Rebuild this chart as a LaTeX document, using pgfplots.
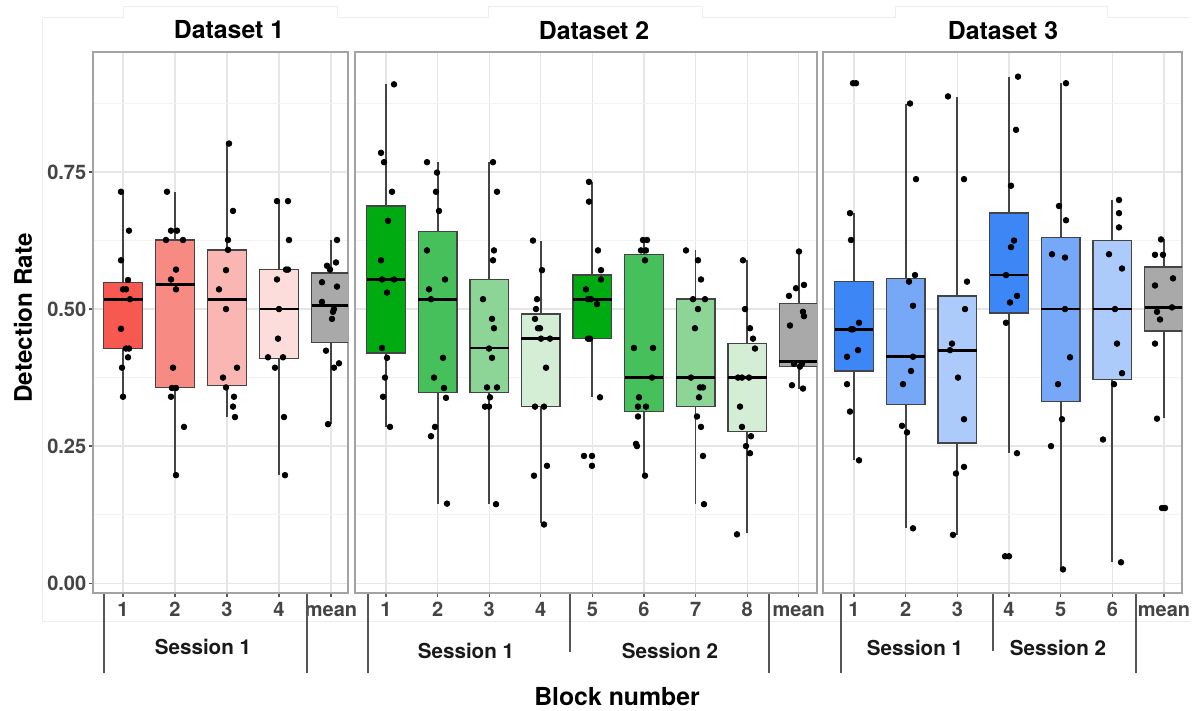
\documentclass[border=0pt]{standalone}
\usepackage{fontspec}
\setmainfont{TeX Gyre Heros}
\usepackage{pgfplots}
\usepackage{pgfplotstable}
\pgfplotsset{compat=1.18}
\usepgfplotslibrary{statistics}

\definecolor{redA}{HTML}{F7584F}
\definecolor{redB}{HTML}{F88A84}
\definecolor{redC}{HTML}{F9B6B2}
\definecolor{redD}{HTML}{FDDDDB}
\definecolor{grnA}{HTML}{00AA11}
\definecolor{grnB}{HTML}{45C05A}
\definecolor{grnC}{HTML}{8DD597}
\definecolor{grnD}{HTML}{D3EED5}
\definecolor{bluA}{HTML}{3D86F6}
\definecolor{bluB}{HTML}{77A8F8}
\definecolor{bluC}{HTML}{ADCBFA}
\definecolor{meanG}{HTML}{A9A9A9}
\definecolor{boxline}{HTML}{444444}
\definecolor{frame}{HTML}{A3A3A3}
\definecolor{gridmaj}{HTML}{E6E6E6}
\definecolor{gridmin}{HTML}{F3F3F3}
\definecolor{tickc}{HTML}{555555}
\definecolor{labc}{HTML}{444444}
\definecolor{sessc}{HTML}{555555}
\definecolor{faint}{HTML}{EEEEEE}

\newcommand{\ticksize}{\fontsize{10pt}{12pt}\selectfont}
\newcommand{\titlesize}{\fontsize{12.4pt}{14pt}\selectfont}
\newcommand{\sesssize}{\fontsize{10.3pt}{12pt}\selectfont}

% box: position, lower whisker, Q1, median, Q3, upper whisker, colour
\newcommand{\bx}[7]{\addplot[boxplot/draw direction=y, boxplot prepared={draw position=#1, lower whisker=#2,
  lower quartile=#3, median=#4, upper quartile=#5, upper whisker=#6,
  box extend=0.75, whisker extend=0}, draw=boxline, fill=#7] coordinates {};}

\pgfplotsset{
  panel/.style={
    scale only axis, height=270.5pt, ymin=-0.018, ymax=0.969,
    axis line style={draw=frame, line width=0.8pt},
    ytick={0,0.25,0.5,0.75}, minor ytick={0.125,0.375,0.625,0.875},
    xmajorgrids, ymajorgrids, yminorgrids,
    major grid style={draw=gridmaj, line width=0.6pt},
    minor grid style={draw=gridmin, line width=0.4pt},
    tick pos=left,
    tick align=outside, major tick length=2.2pt, minor tick length=0pt,
    xtick style={draw=tickc, line width=0.6pt},
    tick label style={font=\ticksize\bfseries, text=labc},
    xticklabel style={text height=0.7em, inner sep=2.5pt},
    boxplot/draw direction=y,
    boxplot/every median/.style={draw=black, line width=1.4pt},
    boxplot/every whisker/.style={line width=0.9pt},
    boxplot/every box/.style={line width=0.7pt},
  },
  dots/.style={only marks, mark=*, mark size=1.4pt, draw=black, fill=black},
}

% jittered points: x = horizontal position in reference pixels, y = detection rate
\pgfplotstableread{
x y
121 0.714
129 0.643
121 0.589
128 0.553
123 0.536
126 0.536
130 0.518
121 0.464
126 0.428
129 0.428
128 0.412
122 0.393
123 0.340
167 0.714
171 0.643
177 0.643
166 0.626
183 0.626
176 0.572
171 0.554
176 0.536
173 0.393
172 0.356
176 0.356
171 0.340
184 0.285
176 0.197
229 0.802
233 0.679
228 0.626
228 0.608
226 0.571
219 0.536
226 0.500
223 0.375
237 0.393
226 0.357
234 0.340
233 0.322
235 0.303
277 0.697
288 0.697
289 0.626
277 0.554
286 0.572
288 0.572
279 0.500
278 0.446
268 0.412
283 0.412
275 0.393
284 0.303
285 0.197
337 0.626
336 0.585
327 0.579
330 0.572
322 0.549
337 0.541
322 0.513
334 0.500
333 0.495
332 0.482
326 0.424
334 0.393
339 0.401
328 0.290
}\ptsA

\pgfplotstableread{
x y
394 0.910
381 0.785
384 0.768
392 0.714
388 0.661
381 0.589
382 0.554
394 0.554
387 0.530
382 0.429
387 0.411
385 0.375
383 0.340
390 0.285
427 0.768
437 0.749
436 0.714
439 0.679
427 0.607
445 0.554
429 0.536
431 0.518
443 0.411
434 0.375
444 0.356
446 0.338
435 0.285
431 0.268
447 0.145
493 0.768
497 0.714
494 0.607
493 0.589
483 0.518
492 0.482
494 0.465
489 0.428
492 0.411
487 0.357
497 0.357
490 0.339
485 0.322
489 0.322
496 0.144
533 0.625
542 0.571
537 0.518
536 0.500
535 0.482
538 0.465
540 0.465
541 0.446
550 0.446
546 0.393
535 0.322
544 0.322
547 0.214
534 0.196
544 0.107
589 0.732
589 0.696
598 0.607
601 0.571
601 0.554
586 0.536
588 0.518
591 0.518
597 0.509
588 0.446
590 0.446
600 0.339
584 0.232
592 0.232
592 0.214
643 0.626
647 0.626
641 0.607
646 0.607
645 0.589
634 0.429
653 0.429
652 0.375
639 0.339
638 0.322
646 0.322
638 0.304
636 0.254
637 0.250
645 0.196
686 0.607
698 0.589
701 0.554
693 0.518
705 0.518
698 0.500
695 0.465
691 0.375
700 0.357
703 0.357
699 0.339
697 0.304
701 0.285
703 0.232
704 0.144
743 0.589
745 0.500
750 0.465
753 0.446
755 0.428
738 0.375
742 0.375
749 0.375
740 0.322
742 0.285
751 0.268
746 0.250
750 0.237
737 0.089
799 0.605
804 0.544
796 0.538
789 0.524
803 0.495
804 0.487
790 0.470
794 0.400
802 0.400
800 0.395
792 0.361
803 0.355
}\ptsB

\pgfplotstableread{
x y
853 0.912
856 0.912
850 0.675
851 0.626
859 0.475
851 0.463
853 0.463
858 0.425
847 0.413
847 0.363
850 0.313
859 0.224
910 0.875
916 0.737
915 0.562
909 0.550
913 0.506
913 0.413
911 0.387
903 0.363
902 0.287
907 0.275
913 0.100
948 0.888
964 0.737
967 0.550
965 0.500
952 0.437
950 0.425
958 0.375
964 0.299
964 0.212
956 0.200
953 0.088
1018 0.924
1016 0.827
1011 0.725
1014 0.625
1011 0.613
1006 0.562
1017 0.524
1010 0.512
1006 0.475
1017 0.237
1005 0.049
1009 0.049
1066 0.912
1059 0.688
1066 0.662
1052 0.600
1065 0.594
1065 0.500
1070 0.412
1058 0.363
1062 0.299
1051 0.250
1063 0.025
1119 0.699
1119 0.675
1119 0.649
1109 0.600
1122 0.574
1115 0.500
1117 0.437
1122 0.383
1114 0.363
1103 0.262
1121 0.038
1161 0.627
1155 0.599
1163 0.599
1173 0.556
1155 0.543
1172 0.503
1157 0.495
1160 0.481
1155 0.437
1157 0.300
1162 0.137
1165 0.137
}\ptsC

\begin{document}
\begin{tikzpicture}
\path[use as bounding box] (0,0) rectangle (600pt,355.5pt);

% faint background frame of the original figure
\begin{scope}[x=0.5pt, y=-0.5pt, shift={(0pt,355.5pt)}]
\draw[faint, line width=0.5pt] (42,622) -- (42,18) -- (123,18) -- (123,7) -- (337,7) -- (337,18)
  -- (488,18) -- (488,7) -- (702,7) -- (702,18) -- (895,18) -- (895,7) -- (1107,7) -- (1107,18) -- (1190,18);
\draw[faint, line width=0.5pt] (42,622) -- (1190,622);
\end{scope}

% ---------- Dataset 1 ----------
\begin{axis}[panel, at={(46.5pt,59pt)}, anchor=south west, width=127.5pt,
  xmin=0.423, xmax=5.327,
  xtick={1,2,3,4,5}, xticklabels={1,2,3,4,mean},
  yticklabels={0.00,0.25,0.50,0.75},
  ytick style={draw=tickc, line width=0.6pt},
  yticklabel style={inner sep=1pt}]
\bx{1}{0.340}{0.428}{0.518}{0.549}{0.714}{redA}
\bx{2}{0.197}{0.357}{0.545}{0.626}{0.714}{redB}
\bx{3}{0.303}{0.361}{0.518}{0.608}{0.802}{redC}
\bx{4}{0.197}{0.410}{0.500}{0.572}{0.697}{redD}
\bx{5}{0.290}{0.439}{0.507}{0.566}{0.626}{meanG}
\addplot[dots] table[x expr={(\thisrow{x}-123)/52+1}, y=y] {\ptsA};
\end{axis}

% ---------- Dataset 2 ----------
\begin{axis}[panel, at={(177.5pt,59pt)}, anchor=south west, width=231pt,
  xmin=0.399, xmax=9.353,
  xtick={1,...,9}, xticklabels={1,2,3,4,5,6,7,8,mean},
  yticklabels={}, ytick style={draw=none}]
\bx{1}{0.285}{0.420}{0.554}{0.688}{0.910}{grnA}
\bx{2}{0.145}{0.348}{0.518}{0.642}{0.768}{grnB}
\bx{3}{0.144}{0.348}{0.429}{0.554}{0.768}{grnC}
\bx{4}{0.109}{0.322}{0.446}{0.491}{0.625}{grnD}
\bx{5}{0.340}{0.446}{0.518}{0.562}{0.732}{grnA}
\bx{6}{0.196}{0.313}{0.375}{0.599}{0.626}{grnB}
\bx{7}{0.144}{0.322}{0.375}{0.518}{0.607}{grnC}
\bx{8}{0.091}{0.277}{0.375}{0.437}{0.589}{grnD}
\bx{9}{0.355}{0.395}{0.404}{0.510}{0.605}{meanG}
\addplot[dots] table[x expr={(\thisrow{x}-386)/51.6+1}, y=y] {\ptsB};
\end{axis}

% ---------- Dataset 3 ----------
\begin{axis}[panel, at={(411.5pt,59pt)}, anchor=south west, width=179.5pt,
  xmin=0.400, xmax=7.348,
  xtick={1,...,7}, xticklabels={1,2,3,4,5,6,mean},
  yticklabels={}, ytick style={draw=none}]
\bx{1}{0.224}{0.387}{0.463}{0.550}{0.675}{bluA}
\bx{2}{0.100}{0.326}{0.413}{0.556}{0.875}{bluB}
\bx{3}{0.088}{0.256}{0.425}{0.524}{0.886}{bluC}
\bx{4}{0.237}{0.493}{0.562}{0.675}{0.924}{bluA}
\bx{5}{0.025}{0.331}{0.500}{0.631}{0.912}{bluB}
\bx{6}{0.039}{0.372}{0.500}{0.625}{0.699}{bluC}
\bx{7}{0.302}{0.460}{0.503}{0.577}{0.627}{meanG}
\addplot[dots] table[x expr={(\thisrow{x}-854)/51.67+1}, y=y] {\ptsC};
\end{axis}

% ---------- titles, session brackets, axis titles ----------
\begin{scope}[x=0.5pt, y=-0.5pt, shift={(0pt,355.5pt)}]
\node[font=\titlesize\bfseries, inner sep=0pt] at (229,30) {Dataset 1};
\node[font=\titlesize\bfseries, inner sep=0pt] at (594,31) {Dataset 2};
\node[font=\titlesize\bfseries, inner sep=0pt] at (1003,31) {Dataset 3};
\node[font=\fontsize{12.1pt}{14pt}\selectfont\bfseries, rotate=90, inner sep=0pt] at (23,318) {Detection Rate};
\node[font=\titlesize\bfseries, inner sep=0pt] at (617,697) {Block number};

\begin{scope}[draw=sessc, line width=1.2pt]
\draw (104,594) -- (104,673);
\draw (307,594) -- (307,673);
\draw (368,594) -- (368,673);
\draw (570,594) -- (570,652);
\draw (769,594) -- (769,673);
\draw (841,594) -- (841,673);
\draw (993,594) -- (993,651);
\draw (1136,594) -- (1136,673);
\end{scope}
\node[font=\sesssize\bfseries, text=black!90, inner sep=0pt] at (203,647) {Session 1};
\node[font=\sesssize\bfseries, text=black!90, inner sep=0pt] at (466,651) {Session 1};
\node[font=\sesssize\bfseries, text=black!90, inner sep=0pt] at (670,651) {Session 2};
\node[font=\sesssize\bfseries, text=black!90, inner sep=0pt] at (915,648) {Session 1};
\node[font=\sesssize\bfseries, text=black!90, inner sep=0pt] at (1058,648) {Session 2};
\end{scope}
\end{tikzpicture}
\end{document}
